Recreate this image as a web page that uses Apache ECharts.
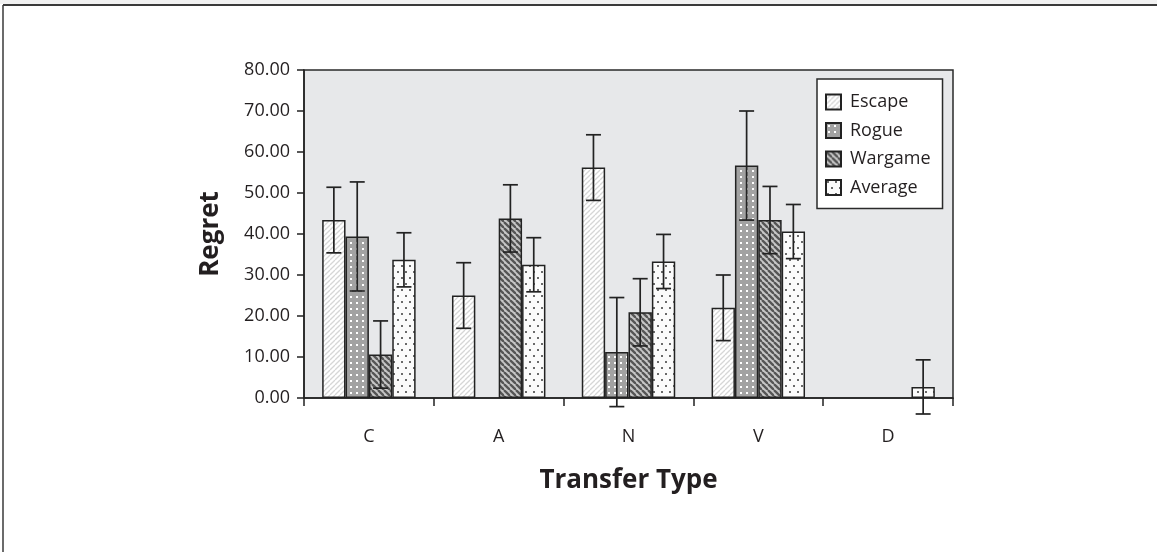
<!DOCTYPE html>
<html>
<head>
<meta charset="utf-8">
<script src="https://cdn.jsdelivr.net/npm/echarts@6/dist/echarts.min.js"></script>
<style>
html,body{margin:0;padding:0;background:#fff;}
#chart{width:1157px;height:552px;}
</style>
</head>
<body>
<div id="chart"></div>
<script>
// ---- data ----
var categories = ['C', 'A', 'N', 'V', 'D'];
var seriesNames = ['Escape', 'Rogue', 'Wargame', 'Average'];
var escapeMean  = [43.4, 25.0, 56.2, 22.0, null];
var rogueMean   = [39.4, null, 11.2, 56.7, null];
var wargameMean = [10.6, 43.8, 20.9, 43.4, null];
var averageMean = [33.7, 32.5, 33.3, 40.6, 2.7];
var escapeErr   = [8.0, 8.0, 8.0, 8.0, null];
var rogueErr    = [13.3, null, 13.3, 13.3, null];
var wargameErr  = [8.2, 8.2, 8.2, 8.2, null];
var averageErr  = [6.6, 6.6, 6.6, 6.6, 6.6];
var yTicks = [0, 10, 20, 30, 40, 50, 60, 70, 80];

var means = [escapeMean, rogueMean, wargameMean, averageMean];
var errs = [escapeErr, rogueErr, wargameErr, averageErr];

// ---- patterns ----
function cv(w, h, fn) {
  var c = document.createElement('canvas');
  c.width = w; c.height = h;
  var g = c.getContext('2d');
  fn(g, w, h);
  return c;
}
var patEscape = cv(5, 5, function (g, w, h) {
  g.fillStyle = '#ffffff'; g.fillRect(0, 0, w, h);
  g.strokeStyle = '#d6d6d6'; g.lineWidth = 1.3;
  for (var k = -1; k <= 1; k++) {
    g.beginPath(); g.moveTo(k * w, h); g.lineTo(k * w + w, 0); g.stroke();
  }
});
var patRogue = cv(6, 6, function (g, w, h) {
  g.fillStyle = '#a2a2a2'; g.fillRect(0, 0, w, h);
  g.fillStyle = '#ffffff'; g.fillRect(2, 2, 2, 2);
});
var patWargame = cv(6, 6, function (g, w, h) {
  g.fillStyle = '#c6c6c6'; g.fillRect(0, 0, w, h);
  g.strokeStyle = '#555555'; g.lineWidth = 2.3;
  for (var k = -1; k <= 1; k++) {
    g.beginPath(); g.moveTo(k * w, 0); g.lineTo(k * w + w, h); g.stroke();
  }
});
var patAverage = cv(8, 12, function (g, w, h) {
  g.fillStyle = '#fbfbfb'; g.fillRect(0, 0, w, h);
  g.fillStyle = '#6a6a6a'; g.fillRect(1, 1, 2, 2); g.fillRect(5, 7, 2, 2);
});
var patterns = [patEscape, patRogue, patWargame, patAverage];

var GAP = 0.28;
var FONT = '"Open Sans", "Noto Sans", sans-serif';

var barSeries = seriesNames.map(function (name, i) {
  return {
    name: name,
    type: 'bar',
    data: means[i],
    barGap: '0%',
    barCategoryGap: (GAP * 100) + '%',
    itemStyle: {
      color: { image: patterns[i], repeat: 'repeat' },
      borderColor: '#222',
      borderWidth: 1.5
    },
    emphasis: { disabled: true }
  };
});

var errData = [];
for (var s = 0; s < means.length; s++) {
  for (var c = 0; c < categories.length; c++) {
    if (means[s][c] != null && errs[s][c] != null) {
      errData.push([c, means[s][c], errs[s][c], s]);
    }
  }
}

var errSeries = {
  type: 'custom',
  silent: true,
  z: 10,
  data: errData,
  encode: { x: 0, y: 1 },
  renderItem: function (params, api) {
    var ci = api.value(0), m = api.value(1), e = api.value(2), si = api.value(3);
    var center = api.coord([ci, m]);
    var catW = api.size([1, 0])[0];
    var bw = catW * (1 - GAP) / 4;
    var x = center[0] + (si - 1.5) * bw;
    var top = api.coord([ci, m + e])[1];
    var bot = api.coord([ci, m - e])[1];
    var hw = 7.5;
    var st = { stroke: '#222', lineWidth: 1.7 };
    return {
      type: 'group',
      children: [
        { type: 'line', shape: { x1: x, y1: top, x2: x, y2: bot }, style: st },
        { type: 'line', shape: { x1: x - hw, y1: top, x2: x + hw, y2: top }, style: st },
        { type: 'line', shape: { x1: x - hw, y1: bot, x2: x + hw, y2: bot }, style: st }
      ]
    };
  }
};

var chart = echarts.init(document.getElementById('chart'), null, { renderer: 'canvas' });
chart.setOption({
  animation: false,
  backgroundColor: '#ffffff',
  textStyle: { fontFamily: FONT },
  graphic: [
    { type: 'rect', shape: { x: 0, y: 0, width: 1157, height: 4 }, style: { fill: '#f1f1f1' }, z: -1 },
    { type: 'line', shape: { x1: 3, y1: 5, x2: 1157, y2: 5 }, style: { stroke: '#3a3a3a', lineWidth: 2 } },
    { type: 'line', shape: { x1: 3, y1: 5, x2: 3, y2: 552 }, style: { stroke: '#3a3a3a', lineWidth: 1.5 } }
  ],
  grid: {
    left: 304, top: 70, right: 204, bottom: 154,
    show: true,
    backgroundColor: '#e7e8ea',
    borderColor: '#2a2a2a',
    borderWidth: 1.5
  },
  legend: {
    orient: 'vertical',
    left: 817, top: 79,
    icon: 'rect',
    itemWidth: 15, itemHeight: 15,
    itemGap: 10.5,
    padding: [14, 12, 12, 8],
    backgroundColor: '#ffffff',
    borderColor: '#2a2a2a',
    borderWidth: 1.5,
    data: seriesNames,
    textStyle: { fontSize: 18, color: '#231f20', fontFamily: FONT, padding: [0, 0, 0, 4] }
  },
  xAxis: {
    type: 'category',
    data: categories,
    name: 'Transfer Type',
    nameLocation: 'middle',
    nameGap: 70,
    nameTextStyle: { fontSize: 26, fontWeight: 'bold', color: '#231f20', fontFamily: FONT },
    axisLine: { lineStyle: { color: '#222', width: 1.5 } },
    axisTick: { show: true, length: 8, lineStyle: { color: '#222', width: 1.5 } },
    axisLabel: { fontSize: 18, color: '#231f20', margin: 30, fontFamily: FONT },
    splitLine: { show: false }
  },
  yAxis: {
    type: 'value',
    min: 0, max: 80, interval: 10,
    name: 'Regret',
    nameLocation: 'middle',
    nameRotate: 90,
    nameGap: 80,
    nameTextStyle: { fontSize: 26, fontWeight: 'bold', color: '#231f20', fontFamily: FONT },
    axisLine: { show: true, lineStyle: { color: '#222', width: 1.5 } },
    axisTick: { show: true, length: 7, lineStyle: { color: '#222', width: 1.5 } },
    axisLabel: {
      fontSize: 18, color: '#231f20', margin: 14, fontFamily: FONT,
      formatter: function (v) { return yTicks.indexOf(v) >= 0 ? v.toFixed(2) : ''; }
    },
    splitLine: { show: false }
  },
  series: barSeries.concat([errSeries])
});
</script>
</body>
</html>
